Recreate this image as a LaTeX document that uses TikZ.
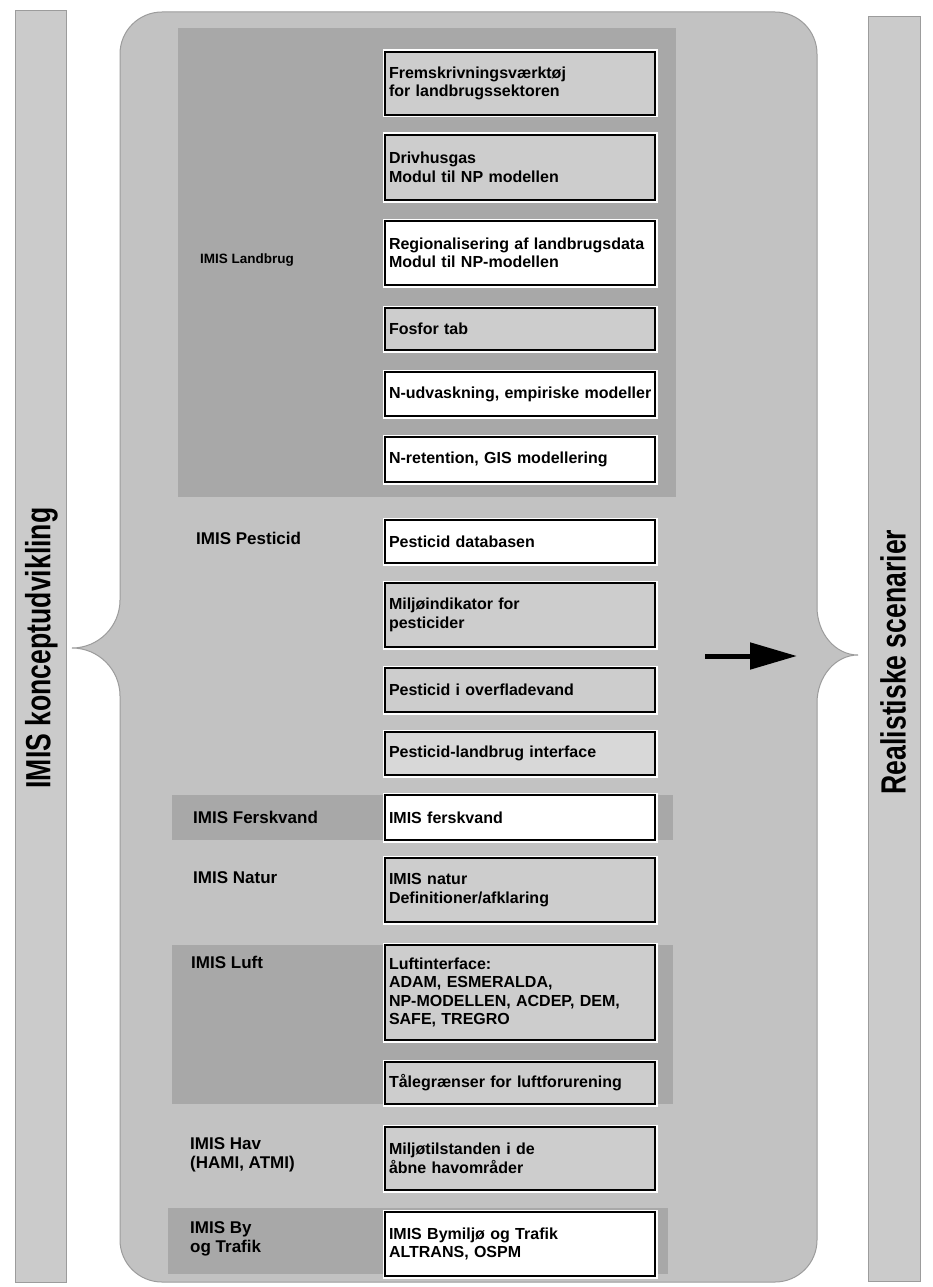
\documentclass[tikz,border=0pt]{standalone}
\usepackage{fontspec}
\setmainfont{Liberation Sans}
\usepackage{graphicx}
\usetikzlibrary{arrows.meta}
\definecolor{bgmain}{HTML}{C2C2C2}
\definecolor{bgbar}{HTML}{CBCBCB}
\definecolor{darkband}{HTML}{A8A8A8}
\definecolor{boxgray}{HTML}{CDCDCD}
\definecolor{boxlight}{HTML}{D8D8D8}
\definecolor{edgegray}{HTML}{9C9C9C}
\begin{document}
\begin{tikzpicture}[x=1pt,y=-1pt,
 box/.style={rectangle, draw=black, line width=1.8pt, preaction={draw=white,line width=5pt},
   fill=boxgray, minimum width=270pt, text width=262pt, inner xsep=4pt, inner ysep=2pt, align=left,
   font=\bfseries\fontsize{16}{18.5}\selectfont},
 wbox/.style={box, fill=white},
 lab/.style={anchor=west, inner sep=0pt, align=left, font=\bfseries\fontsize{17}{18.5}\selectfont},
 band/.style={fill=darkband, draw=none},
 bartext/.style={rotate=90, inner sep=0pt, font=\bfseries\fontsize{35}{40}\selectfont},
 barbox/.style={fill=bgbar, draw=edgegray, line width=0.8pt},
]
\useasboundingbox[fill=white] (0,0) rectangle (932,1287);

% side bars
\path[barbox] (15,10) rectangle (66,1282);
\path[barbox] (868,16) rectangle (920,1281);
\node[bartext] (lt) at (41.5,648) {\scalebox{0.76}[1]{IMIS konceptudvikling}};
\node[bartext] (rt) at (893,662) {\scalebox{0.76}[1]{Realistiske scenarier}};

% main braced panel
\path[fill=bgmain, draw=edgegray, line width=1pt]
 (162,12) -- (775,12)
 .. controls (798.2,12) and (817,30.8) .. (817,54)
 -- (817,607)
 .. controls (817,633.5) and (835.4,655) .. (858,655)
 .. controls (835.4,655) and (817,676.5) .. (817,703)
 -- (817,1240)
 .. controls (817,1263.2) and (798.2,1282) .. (775,1282)
 -- (162,1282)
 .. controls (138.8,1282) and (120,1263.2) .. (120,1240)
 -- (120,696)
 .. controls (120,669.5) and (98.5,648) .. (72,648)
 .. controls (98.5,648) and (120,626.5) .. (120,600)
 -- (120,54)
 .. controls (120,30.8) and (138.8,12) .. (162,12) -- cycle;

% bands
\path[band] (178,28) rectangle (676,497);
\path[band] (172,795) rectangle (673,840);
\path[band] (172,945) rectangle (673,1104);
\path[band] (168,1208) rectangle (668,1274);

% labels
\node[lab, font=\bfseries\fontsize{13.5}{16}\selectfont] (lLand) at (200,260) {IMIS Landbrug};
\node[lab] (lPest) at (196,538) {IMIS Pesticid};
\node[lab] (lFersk) at (193,817) {IMIS Ferskvand};
\node[lab] (lNatur) at (193,878) {IMIS Natur};
\node[lab] (lLuft) at (191,962) {IMIS Luft};
\node[lab] (lHav) at (190,1155) {IMIS Hav\\(HAMI, ATMI)};
\node[lab] (lBy) at (190,1239) {IMIS By\\og Trafik};

% boxes
\node[box, minimum height=63pt] (b1) at (520,83.5) {Fremskrivningsværktøj\\for landbrugssektoren};
\node[box, minimum height=65pt] (b2) at (520,167.5) {Drivhusgas\\Modul til NP modellen};
\node[wbox, minimum height=64pt] (b3) at (520,253) {\mbox{Regionalisering af landbrugsdata}\\Modul til NP-modellen};
\node[box, minimum height=42pt] (b4) at (520,329) {Fosfor tab};
\node[wbox, minimum height=44pt] (b5) at (520,394) {\mbox{N-udvaskning, empiriske modeller}};
\node[wbox, minimum height=45pt] (b6) at (520,459.5) {N-retention, GIS modellering};

\node[wbox, minimum height=43pt] (p1) at (520,541.5) {Pesticid databasen};
\node[box, minimum height=64pt] (p2) at (520,615) {Miljøindikator for\\pesticider};
\node[box, minimum height=44pt] (p3) at (520,690) {Pesticid i overfladevand};
\node[box, fill=boxlight, minimum height=43pt] (p4) at (520,753.5) {Pesticid-landbrug interface};

\node[wbox, minimum height=45pt] (f1) at (520,817.5) {IMIS ferskvand};
\node[box, minimum height=64pt] (n1) at (520,890) {IMIS natur\\Definitioner/afklaring};
\node[box, minimum height=95pt] (a1) at (520,992.5) {Luftinterface:\\ADAM, ESMERALDA,\\NP-MODELLEN, ACDEP, DEM,\\SAFE, TREGRO};
\node[box, minimum height=42pt] (a2) at (520,1083) {Tålegrænser for luftforurening};
\node[box, minimum height=63pt] (h1) at (520,1158.5) {Miljøtilstanden i de\\åbne havområder};
\node[wbox, minimum height=64pt] (y1) at (520,1244) {IMIS Bymiljø og Trafik\\ALTRANS, OSPM};

% arrow
\coordinate (arrS) at (705,656);
\coordinate (arrE) at (797,656);
\draw[line width=5pt, -{Triangle[length=47pt,width=26pt]}] (arrS) -- (arrE);
\end{tikzpicture}
\end{document}
